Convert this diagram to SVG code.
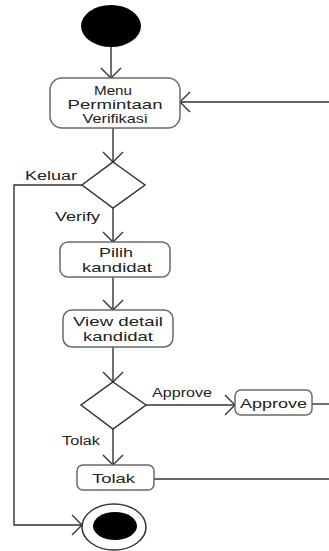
<svg xmlns="http://www.w3.org/2000/svg" width="329" height="551" viewBox="0 0 329 551">
<style>
.bg{fill:#ffffff}
.node{fill:#ffffff;stroke:#6a6a6a;stroke-width:1.5}
.dia{fill:#ffffff;stroke:#333333;stroke-width:1.5}
.edge{fill:none;stroke:#333333;stroke-width:1.4}
.t{font-family:"Liberation Sans",Arial,sans-serif;font-size:13.5px;fill:#222222;text-anchor:middle}
.tm{font-size:13px}
.lbl{font-family:"Liberation Sans",Arial,sans-serif;font-size:12.5px;fill:#222222}
</style>
<defs>
<marker id="arr" viewBox="0 0 12 22" refX="11" refY="11" markerWidth="12" markerHeight="22" markerUnits="userSpaceOnUse" orient="auto">
<path d="M1,1 L11,11 L1,21" fill="none" stroke="#333333" stroke-width="1.4"/>
</marker>
</defs>
<rect class="bg" x="0" y="0" width="329" height="551"/>
<g id="connectors">
<path class="edge" d="M111,47 L111,78" marker-end="url(#arr)"/>
<path class="edge" d="M329,102 L180,102" marker-end="url(#arr)"/>
<path class="edge" d="M113,128 L113,162" marker-end="url(#arr)"/>
<path class="edge" d="M82,185 L14,185 L14,525 L82,525" marker-end="url(#arr)"/>
<path class="edge" d="M113,208 L113,242" marker-end="url(#arr)"/>
<path class="edge" d="M113,277 L113,310" marker-end="url(#arr)"/>
<path class="edge" d="M113,347 L113,382" marker-end="url(#arr)"/>
<path class="edge" d="M146,405 L235,405" marker-end="url(#arr)"/>
<path class="edge" d="M312,404 L329,404"/>
<path class="edge" d="M113,429 L113,465" marker-end="url(#arr)"/>
<path class="edge" d="M154,479 L329,479"/>
<text class="lbl" x="25" y="180" textLength="52" lengthAdjust="spacingAndGlyphs">Keluar</text>
<text class="lbl" x="55" y="221" textLength="45" lengthAdjust="spacingAndGlyphs">Verify</text>
<text class="lbl" x="152" y="397" textLength="60" lengthAdjust="spacingAndGlyphs">Approve</text>
<text class="lbl" x="62" y="445" textLength="38" lengthAdjust="spacingAndGlyphs">Tolak</text>
</g>
<g id="start">
<ellipse cx="111" cy="26" rx="30" ry="21" fill="#000000"/>
</g>
<g id="menu">
<rect class="node" x="50" y="78" width="130" height="50" rx="12"/>
<text class="t tm" x="113" y="94.5" textLength="38" lengthAdjust="spacingAndGlyphs">Menu</text>
<text class="t tm" x="115" y="108.5" textLength="95" lengthAdjust="spacingAndGlyphs">Permintaan</text>
<text class="t tm" x="115" y="122.5" textLength="65" lengthAdjust="spacingAndGlyphs">Verifikasi</text>
</g>
<g id="decision1">
<polygon class="dia" points="113,162 145,185 113,208 82,185"/>
</g>
<g id="pilih">
<rect class="node" x="60" y="242" width="110" height="35" rx="8"/>
<text class="t" x="116" y="257" textLength="34" lengthAdjust="spacingAndGlyphs">Pilih</text>
<text class="t" x="117" y="272" textLength="70" lengthAdjust="spacingAndGlyphs">kandidat</text>
</g>
<g id="view">
<rect class="node" x="63" y="310" width="110" height="37" rx="9"/>
<text class="t" x="118" y="326" textLength="90" lengthAdjust="spacingAndGlyphs">View detail</text>
<text class="t" x="118" y="341" textLength="70" lengthAdjust="spacingAndGlyphs">kandidat</text>
</g>
<g id="decision2">
<polygon class="dia" points="113,382 146,405 113,429 81,405"/>
</g>
<g id="approve">
<rect class="node" x="235" y="390" width="77" height="25" rx="6"/>
<text class="t" x="273.5" y="408" textLength="67" lengthAdjust="spacingAndGlyphs">Approve</text>
</g>
<g id="tolak">
<rect class="node" x="77" y="465" width="77" height="25" rx="6"/>
<text class="t" x="113.5" y="483" textLength="43" lengthAdjust="spacingAndGlyphs">Tolak</text>
</g>
<g id="end">
<ellipse cx="114" cy="527" rx="32" ry="23" fill="#ffffff" stroke="#333333" stroke-width="1.5"/>
<ellipse cx="115" cy="526" rx="22" ry="14" fill="#000000"/>
</g>
</svg>
